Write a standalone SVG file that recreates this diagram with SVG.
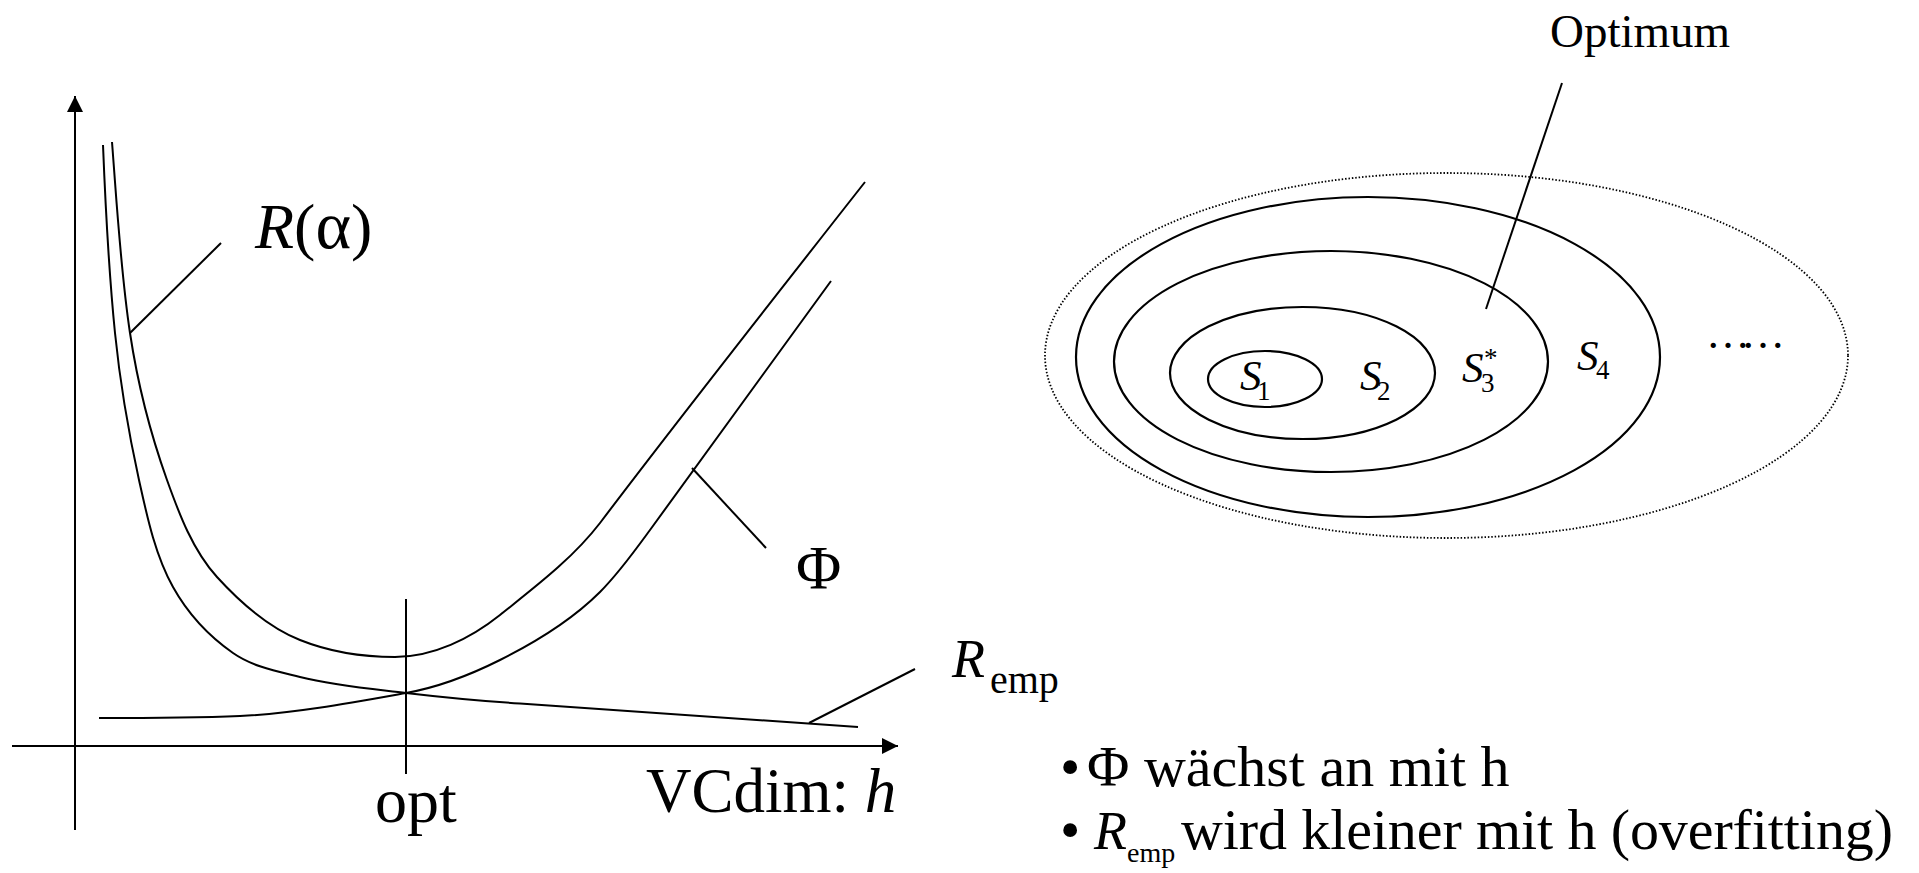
<svg xmlns="http://www.w3.org/2000/svg" width="1919" height="873" viewBox="0 0 1919 873">
<defs>
<style>
.ln{fill:none;stroke:#000;stroke-width:2;stroke-linecap:butt;stroke-linejoin:round}
.ell{fill:none;stroke:#000;stroke-width:2.2}
.dot{fill:none;stroke:#000;stroke-width:1.8;stroke-dasharray:1.5 1.9}
text{font-family:"Liberation Serif","Times New Roman",serif;fill:#000}
.it{font-style:italic}
</style>
<marker id="arr" markerUnits="userSpaceOnUse" markerWidth="16" markerHeight="16" refX="16" refY="8" orient="auto">
<path d="M0,0 L16,8 L0,16 z" fill="#000"/>
</marker>
</defs>
<rect width="1919" height="873" fill="#fff"/>

<g id="axes">
<line class="ln" x1="75" y1="830" x2="75" y2="96" marker-end="url(#arr)"/>
<line class="ln" x1="12" y1="746" x2="898" y2="746" marker-end="url(#arr)"/>
<line class="ln" x1="406" y1="599" x2="406" y2="774"/>
</g>

<g id="curves">
<path id="curve-R" class="ln" d="M112,142 C117,206 120.5,270 130,333 C137.5,383 150.2,433 167,480 C179.1,513.9 192.8,550.4 217,577 C240.6,602.9 267.5,627 300,640 C329.7,651.9 363,657 395,657 C433,657 470.3,638.7 500,615 C535.1,586.9 572.6,558.7 600,523 C640,470 700,392 865,182"/>
<path id="curve-Phi" class="ln" d="M99,718 C150,718 190,718 240,716 C295,713.3 351.9,702.7 406,693 C438.5,687.2 470.5,674.8 500,660 C535.8,642.1 571.7,620.3 600,592 C619.1,572.9 634.1,551.8 650,530 C700,462 760,378 831,281"/>
<path id="curve-Remp" class="ln" d="M103,145 C105.5,208 108.7,270.3 115,333 C120,382.8 128.3,431.2 139,480 C147,516.1 155,554.7 173,587 C187.6,613.2 208.4,635.8 233,653 C252.7,666.8 276.7,671.2 300,677 C334.9,685.7 370.3,688.7 406,693 C440,697 480,701 520,703.5 L858,727"/>
</g>

<g id="leaders">
<line class="ln" x1="130" y1="333" x2="221" y2="243"/>
<line class="ln" x1="692" y1="468" x2="766" y2="548"/>
<line class="ln" x1="809" y1="723" x2="915" y2="669"/>
<line class="ln" x1="1562" y1="83" x2="1486" y2="309"/>
</g>

<g id="chart-labels">
<text id="label-R" x="255" y="248" font-size="64"><tspan class="it">R</tspan>(<tspan font-size="68">α</tspan>)</text>
<text id="label-Phi" x="796" y="588" font-size="62">Φ</text>
<text id="label-Remp" x="952" y="677" font-size="54"><tspan class="it">R</tspan><tspan x="990" y="693" font-size="40">emp</tspan></text>
<text id="label-opt" x="375" y="822" font-size="64">opt</text>
<text id="label-vcdim" x="646" y="812" font-size="63">VCdim: <tspan class="it">h</tspan></text>
</g>

<g id="sets">
<g id="set-outer"><ellipse class="dot" cx="1446.5" cy="355.5" rx="401.5" ry="182.5"/></g>
<g id="set-S4"><ellipse class="ell" cx="1368" cy="357" rx="292" ry="160"/></g>
<g id="set-S3"><ellipse class="ell" cx="1331" cy="361.5" rx="217" ry="110.5"/></g>
<g id="set-S2"><ellipse class="ell" cx="1302.5" cy="373" rx="132.5" ry="66"/></g>
<g id="set-S1"><ellipse class="ell" cx="1265" cy="379" rx="57" ry="28"/></g>
<text x="1240" y="390" font-size="43" class="it">S</text><text x="1257" y="400" font-size="27">1</text>
<text x="1360" y="390" font-size="43" class="it">S</text><text x="1377" y="400" font-size="27">2</text>
<text x="1462" y="382" font-size="43" class="it">S</text><text x="1481" y="392" font-size="27">3</text><text x="1484" y="367" font-size="27">*</text>
<text x="1577" y="370" font-size="43" class="it">S</text><text x="1596" y="379" font-size="27">4</text>
<text x="1706" y="348" font-size="44" letter-spacing="-9">……</text>
<text id="label-optimum" x="1550" y="47" font-size="47">Optimum</text>
</g>

<g id="bullets">
<text font-size="58"><tspan x="1060" y="786">•</tspan><tspan x="1087" y="786">Φ wächst an mit h</tspan></text>
<text font-size="58"><tspan x="1060" y="849">•</tspan><tspan x="1094" y="849" font-size="54" class="it">R</tspan><tspan x="1127" y="862" font-size="28">emp</tspan></text>
<text font-size="58" x="1181" y="849" textLength="712" lengthAdjust="spacing">wird kleiner mit h (overfitting)</text>
</g>
</svg>
